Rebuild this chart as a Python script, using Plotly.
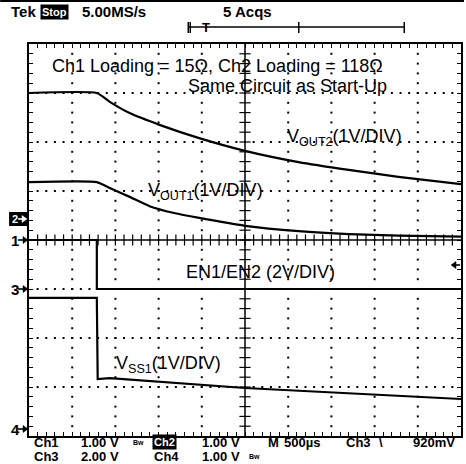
import plotly.graph_objects as go

# ---- data (x: time in divisions, 500 µs/div; y: screen divisions, 0 = bottom) ----
t_vout2 = [0, 1.57, 1.87, 2.33, 3.02, 3.94, 5.0, 6.24, 7.40, 8.55, 10.0]
v_vout2 = [7.0, 7.0, 6.82, 6.59, 6.35, 6.08, 5.82, 5.59, 5.43, 5.29, 5.14]
t_vout1 = [0, 1.57, 1.87, 2.33, 2.79, 3.36, 3.94, 5.0, 6.24, 7.40, 8.55, 10.0]
v_vout1 = [5.18, 5.18, 5.06, 4.88, 4.69, 4.55, 4.45, 4.29, 4.18, 4.12, 4.09, 4.07]
t_en = [0, 1.57, 1.57, 10.0]
v_en = [4.0, 4.0, 3.0, 3.0]
t_vss1 = [0, 1.57, 1.59, 1.87, 5.0, 10.0]
v_vss1 = [2.82, 2.82, 1.16, 1.18, 0.98, 0.755]

x_divs = list(range(0, 11))
y_divs = list(range(0, 9))

W, H = 466, 464
L, R, T, B = 29, 3, 44, 28


def px(x):
    return (x - L) / (W - L - R)


def py(y):
    return (H - B - y) / (H - T - B)


fig = go.Figure()

# dotted graticule
gx, gy = [], []
for xv in x_divs[1:-1]:
    if xv == 5:
        continue
    for k in range(1, 40):
        gx.append(xv)
        gy.append(k * 0.2)
for yv in y_divs[1:-1]:
    if yv == 4:
        continue
    for k in range(1, 50):
        gx.append(k * 0.2)
        gy.append(yv)
fig.add_trace(go.Scatter(x=gx, y=gy, mode="markers",
                         marker=dict(symbol="square", size=2, color="black", line=dict(width=0)),
                         hoverinfo="skip", showlegend=False))

# center cross with ticks
fig.add_trace(go.Scatter(x=[0, 10], y=[4, 4], mode="lines",
                         line=dict(color="black", width=1.5), hoverinfo="skip", showlegend=False))
fig.add_trace(go.Scatter(x=[5, 5], y=[0, 8], mode="lines",
                         line=dict(color="black", width=1.5), hoverinfo="skip", showlegend=False))
fig.add_trace(go.Scatter(x=[k * 0.2 for k in range(1, 50)], y=[4] * 49, mode="markers",
                         marker=dict(symbol="line-ns-open", size=8, color="black",
                                     line=dict(color="black", width=1.2)),
                         hoverinfo="skip", showlegend=False))
fig.add_trace(go.Scatter(x=[5] * 39, y=[k * 0.2 for k in range(1, 40)], mode="markers",
                         marker=dict(symbol="line-ew-open", size=8, color="black",
                                     line=dict(color="black", width=1.2)),
                         hoverinfo="skip", showlegend=False))

# waveforms
for tx, vy, shp in [(t_vout2, v_vout2, "spline"), (t_vout1, v_vout1, "spline"),
                    (t_en, v_en, "linear"), (t_vss1, v_vss1, "linear")]:
    fig.add_trace(go.Scatter(x=tx, y=vy, mode="lines",
                             line=dict(color="black", width=2.2, shape=shp, smoothing=0.5),
                             hoverinfo="skip", showlegend=False))

ax = dict(showgrid=False, zeroline=False, showticklabels=False, ticks="inside",
          tick0=0, ticklen=4, tickwidth=1, tickcolor="black", showline=True,
          linewidth=2, linecolor="black", mirror="ticks", fixedrange=True)
fig.update_xaxes(range=[0, 10], dtick=0.2, **ax)
fig.update_yaxes(range=[0, 8], dtick=0.2, **ax)

ann = []
shapes = []
TF = "Arial, Liberation Sans, sans-serif"


def add(text, x, y, size=18, bold=False, color="black", bg=None, anchor="left", fam=TF):
    a = dict(text=("<b>%s</b>" % text) if bold else text, x=px(x), y=py(y),
             xref="paper", yref="paper", xanchor=anchor, yanchor="middle",
             showarrow=False, font=dict(family=fam, size=size, color=color))
    if bg:
        a["bgcolor"] = bg
        a["borderpad"] = 1
    ann.append(a)


def arrow(x0, x1, y, color="black"):
    d = 1 if x1 > x0 else -1
    shapes.append(dict(type="line", xref="paper", yref="paper", layer="above",
                       x0=px(x0), x1=px(x1 - 3 * d), y0=py(y), y1=py(y),
                       line=dict(color=color, width=1.6)))
    path = "M %f %f L %f %f L %f %f Z" % (px(x1 - 5 * d), py(y - 3.5), px(x1), py(y),
                                          px(x1 - 5 * d), py(y + 3.5))
    shapes.append(dict(type="path", xref="paper", yref="paper", path=path, layer="above",
                       fillcolor=color, line=dict(color=color, width=0.5)))


# chart texts
add("Ch1 Loading = 15Ω, Ch2 Loading = 118Ω", 50, 66, 18)
add("Same Circuit as Start-Up", 187, 86, 18)
add("V<sub>OUT2</sub>(1V/DIV)", 286, 137, 18)
add("V<sub>OUT1</sub>(1V/DIV)", 147, 191, 18)
add("EN1/EN2 (2V/DIV)", 185, 272, 18)
add("V<sub>SS1</sub>(1V/DIV)", 114, 364, 18)

# header
add("Tek", 9, 12, 15, bold=True)
add("Stop", 40, 12, 11, bold=True, color="white", bg="black")
add("5.00MS/s", 80, 12, 15, bold=True)
add("5 Acqs", 222, 12, 15, bold=True)
add("T", 201, 27, 13, bold=True)

shapes += [
    dict(type="line", xref="paper", yref="paper", x0=px(0), x1=px(466), y0=py(1), y1=py(1),
         line=dict(color="black", width=2)),
    dict(type="line", xref="paper", yref="paper", x0=px(189), x1=px(406), y0=py(27), y1=py(27),
         line=dict(color="black", width=1.5)),
    dict(type="line", xref="paper", yref="paper", x0=px(189), x1=px(189), y0=py(22), y1=py(33),
         line=dict(color="black", width=1.5)),
    dict(type="line", xref="paper", yref="paper", x0=px(191), x1=px(191), y0=py(22), y1=py(33),
         line=dict(color="black", width=1.5)),
    dict(type="line", xref="paper", yref="paper", x0=px(300), x1=px(300), y0=py(22), y1=py(33),
         line=dict(color="black", width=1.5)),
    dict(type="line", xref="paper", yref="paper", x0=px(406), x1=px(406), y0=py(22), y1=py(33),
         line=dict(color="black", width=1.5)),
    # inverted box for channel 2 marker
    dict(type="rect", xref="paper", yref="paper", layer="above", x0=px(9), x1=px(28),
         y0=py(226), y1=py(212), fillcolor="black", line=dict(width=0)),
]

# channel markers
add("2", 10, 219, 11, bold=True, color="white")
arrow(18, 27, 219, color="white")
add("1", 9, 240, 15, bold=True)
arrow(18, 28, 240)
add("3", 9, 289, 15, bold=True)
arrow(18, 28, 289)
add("4", 9, 429, 15, bold=True)
arrow(18, 28, 429)
arrow(462, 453, 265)

# footer
row1, row2 = 442, 456
FS = 13
add("Ch1", 32, row1, FS, bold=True)
add("1.00 V", 79, row1, FS, bold=True)
add("Bw", 131, row1, 7, bold=True)
add("Ch2", 153, row1, 11, bold=True, color="white", bg="black")
add("1.00 V", 201, row1, FS, bold=True)
add("M", 267, row1, FS, bold=True)
add("500µs", 283, row1, FS, bold=True)
add("Ch3", 345, row1, FS, bold=True)
add("\\", 379, row1, FS, bold=True)
add("920mV", 413, row1, FS, bold=True)
add("Ch3", 32, row2, FS, bold=True)
add("2.00 V", 79, row2, FS, bold=True)
add("Ch4", 153, row2, FS, bold=True)
add("1.00 V", 201, row2, FS, bold=True)
add("Bw", 248, row2, 7, bold=True)

fig.update_layout(width=W, height=H, margin=dict(l=L, r=R, t=T, b=B, pad=0),
                  paper_bgcolor="white", plot_bgcolor="white",
                  annotations=ann, shapes=shapes, showlegend=False)

fig.write_html("out.html", config={"displayModeBar": False},
               post_script="document.body.style.margin='0';")
